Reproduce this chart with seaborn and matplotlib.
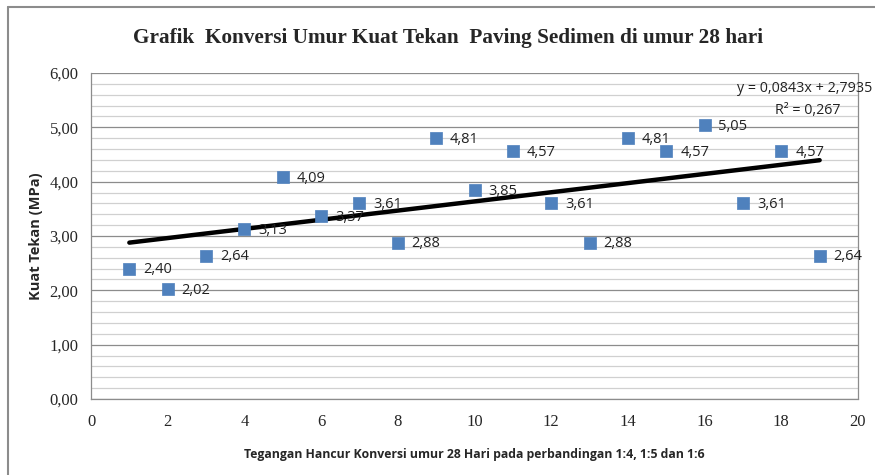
import matplotlib
matplotlib.use("Agg")
import matplotlib.pyplot as plt
import seaborn as sns
import numpy as np
import pandas as pd
from matplotlib.ticker import MultipleLocator, FuncFormatter
from matplotlib.lines import Line2D

# data
x_vals = [1, 2, 3, 4, 5, 6, 7, 8, 9, 10, 11, 12, 13, 14, 15, 16, 17, 18, 19]
y_vals = [2.40, 2.02, 2.64, 3.13, 4.09, 3.37, 3.61, 2.88, 4.81, 3.85,
          4.57, 3.61, 2.88, 4.81, 4.57, 5.05, 3.61, 4.57, 2.64]
slope = 0.0843
intercept = 2.7935
r2_text = "0,267"
title = "Grafik  Konversi Umur Kuat Tekan  Paving Sedimen di umur 28 hari"
xlabel = "Tegangan Hancur Konversi umur 28 Hari pada perbandingan 1:4, 1:5 dan 1:6"
ylabel = "Kuat Tekan (MPa)"

df = pd.DataFrame({"x": x_vals, "y": y_vals})

sns.set_theme(style="white")
fig = plt.figure(figsize=(8.75, 4.75), dpi=100)
ax = fig.add_axes([91/875, 1 - 399/475, (858 - 91)/875, (399 - 73)/475])

ax.set_ylim(0, 6)
ax.set_xlim(0, 20)
ax.yaxis.set_major_locator(MultipleLocator(1))
ax.yaxis.set_minor_locator(MultipleLocator(0.2))
ax.xaxis.set_major_locator(MultipleLocator(2))
ax.grid(which="major", axis="y", color="#8c8c8c", linewidth=0.9)
ax.grid(which="minor", axis="y", color="#d0d0d0", linewidth=0.9)
ax.set_axisbelow(True)

# trendline
tx = np.array([min(x_vals), max(x_vals)])
ty = slope * tx + intercept
sns.lineplot(x=tx, y=ty, ax=ax, color="black", linewidth=3.2, zorder=3)

# scatter
sns.scatterplot(data=df, x="x", y="y", ax=ax, marker="s", s=85,
                color="#4f81bd", edgecolor="#4f81bd", linewidth=0.5, zorder=4)

for xv, yv in zip(x_vals, y_vals):
    ax.annotate(f"{yv:.2f}".replace(".", ","), (xv, yv), xytext=(10, -1),
                textcoords="offset points", va="center", ha="left",
                fontsize=10.5, family="Open Sans", color="#222222", zorder=5)

for s in ["top", "right"]:
    ax.spines[s].set_visible(False)
for s in ["left", "bottom"]:
    ax.spines[s].set_color("#8c8c8c")
    ax.spines[s].set_linewidth(0.9)
ax.plot([1, 1], [0, 1], transform=ax.transAxes, color="#8c8c8c", lw=0.9, clip_on=False)

ax.tick_params(axis="both", which="major", direction="out", length=5, width=0.9,
               color="#8c8c8c", labelsize=12, pad=4)
ax.tick_params(axis="y", which="minor", length=0)
ax.tick_params(axis="x", pad=6)
for lab in ax.get_xticklabels() + ax.get_yticklabels():
    lab.set_family("Liberation Serif")
ax.yaxis.set_major_formatter(FuncFormatter(lambda v, p: f"{v:.2f}".replace(".", ",")))
ax.xaxis.set_major_formatter(FuncFormatter(lambda v, p: f"{int(v)}"))

ax.set_xlabel(xlabel, fontsize=8.8, fontweight="bold", family="Open Sans", labelpad=13)
ax.set_ylabel(ylabel, fontsize=10.5, fontweight="bold", family="Open Sans", labelpad=5)

fig.text(448/875, 1 - 38/475, title, ha="center", va="center", fontsize=15.3,
         fontweight="bold", family="Liberation Serif")

fig.text(872/875, 1 - 88/475, "y = 0,0843x + 2,7935", ha="right", va="center",
         fontsize=10.3, family="Open Sans", color="#222222")
fig.text(808/875, 1 - 110/475, "R² = " + r2_text, ha="center", va="center",
         fontsize=10.3, family="Open Sans", color="#222222")

# chart border (left and top only visible)
fig.add_artist(Line2D([8/875, 8/875], [0, 1 - 7/475], transform=fig.transFigure,
                      color="#8c8c8c", lw=1.5))
fig.add_artist(Line2D([8/875, 1], [1 - 7/475, 1 - 7/475], transform=fig.transFigure,
                      color="#8c8c8c", lw=1.5))

fig.savefig("out.png", dpi=100)
